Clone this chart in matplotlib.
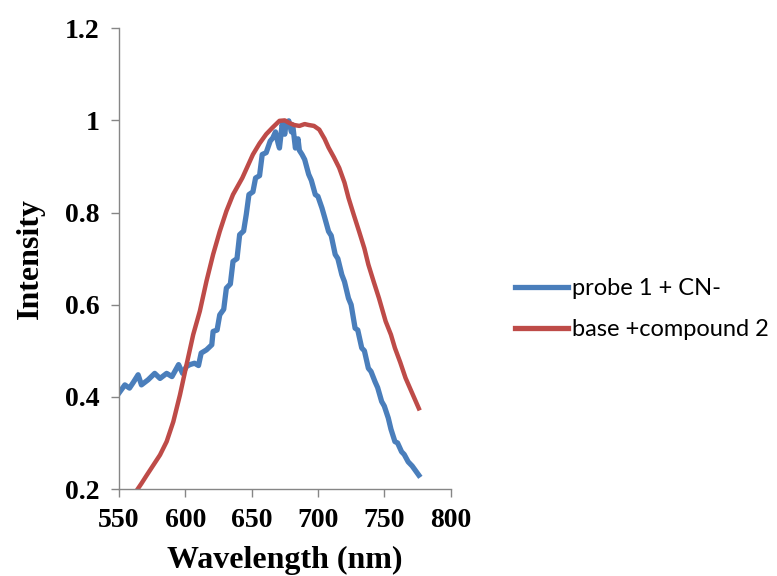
import matplotlib
matplotlib.use("Agg")
import matplotlib.pyplot as plt

# probe 1 + CN-  (blue)
blue_x = [550, 554.5, 558, 561, 564.5, 567, 572, 577, 581, 586, 590, 595, 598, 601, 603.5,
          607, 610, 612, 616, 620, 621, 624, 626, 629, 631, 634, 636, 639, 641, 644, 646,
          648, 651, 653, 656, 658, 661, 664, 666, 668, 670, 671, 673, 675, 676, 678, 680,
          681, 683, 685, 686, 688, 690, 693, 695, 698, 700, 703, 705, 708, 710, 713, 715,
          718, 720, 723, 725, 728, 730, 733, 735, 738, 740, 743, 745, 748, 750, 753, 755,
          758, 760, 763, 765, 768, 771, 774, 776]
blue_y = [0.408, 0.426, 0.419, 0.432, 0.448, 0.426, 0.437, 0.451, 0.440, 0.451, 0.444, 0.470,
          0.451, 0.466, 0.470, 0.473, 0.468, 0.495, 0.502, 0.513, 0.542, 0.545, 0.578, 0.590,
          0.636, 0.645, 0.694, 0.700, 0.752, 0.760, 0.796, 0.839, 0.845, 0.875, 0.880, 0.926,
          0.930, 0.955, 0.962, 0.975, 0.950, 0.940, 0.991, 0.970, 0.995, 0.999, 0.975, 0.990,
          0.940, 0.960, 0.935, 0.926, 0.915, 0.883, 0.870, 0.839, 0.835, 0.810, 0.790, 0.759,
          0.750, 0.709, 0.700, 0.665, 0.650, 0.614, 0.600, 0.549, 0.545, 0.506, 0.500, 0.462,
          0.455, 0.433, 0.420, 0.390, 0.380, 0.354, 0.330, 0.303, 0.300, 0.281, 0.275, 0.259,
          0.250, 0.238, 0.230]

# base +compound 2  (red)
red_x = [563, 567, 571, 576, 581, 586, 591, 596, 601, 606, 611, 616, 621, 626, 631, 636,
         643, 651, 656, 661, 666, 671, 675, 678, 682, 686, 690, 693, 697, 701, 705, 708,
         712, 716, 720, 723, 727, 731, 735, 738, 742, 746, 751, 755, 758, 762, 766, 771, 776]
red_y = [0.195, 0.212, 0.230, 0.252, 0.274, 0.303, 0.346, 0.404, 0.470, 0.535, 0.586, 0.651,
         0.709, 0.759, 0.803, 0.839, 0.875, 0.926, 0.950, 0.970, 0.985, 0.999, 1.000, 0.995,
         0.990, 0.988, 0.992, 0.990, 0.988, 0.980, 0.960, 0.941, 0.920, 0.897, 0.865, 0.832,
         0.795, 0.759, 0.722, 0.687, 0.650, 0.614, 0.564, 0.535, 0.506, 0.475, 0.441, 0.408,
         0.375]

labels = ["probe 1 + CN-", "base +compound 2"]
x_ticks = [550, 600, 650, 700, 750, 800]
y_ticks = [0.2, 0.4, 0.6, 0.8, 1.0, 1.2]
y_tick_labels = ["0.2", "0.4", "0.6", "0.8", "1", "1.2"]

fig = plt.figure(figsize=(7.77, 5.76), dpi=100)
ax = fig.add_axes([0.153, 0.151, 0.427, 0.800])

ax.plot(blue_x, blue_y, color="#4a7ebb", lw=3.8, label=labels[0], solid_joinstyle="round")
ax.plot(red_x, red_y, color="#be4b48", lw=3.2, label=labels[1], solid_joinstyle="round")

ax.set_xlim(550, 800)
ax.set_ylim(0.2, 1.2)
ax.set_xticks(x_ticks)
ax.set_yticks(y_ticks)
ax.set_yticklabels(y_tick_labels)

serif = dict(family="Liberation Serif", weight="bold")
for lab in ax.get_xticklabels() + ax.get_yticklabels():
    lab.set_fontfamily("Liberation Serif")
    lab.set_fontweight("bold")
    lab.set_fontsize(20)

ax.set_xlabel("Wavelength (nm)", fontsize=23, labelpad=9, **serif)
ax.set_ylabel("Intensity", fontsize=23, labelpad=14, **serif)

for s in ["top", "right"]:
    ax.spines[s].set_visible(False)
for s in ["left", "bottom"]:
    ax.spines[s].set_color("#868686")
    ax.spines[s].set_linewidth(1.0)
ax.tick_params(axis="both", direction="out", length=6, width=1.0, color="#868686",
               labelcolor="black", pad=8)

leg = fig.legend(loc="center left", bbox_to_anchor=(0.635, 0.463), frameon=False,
                 prop={"family": "Lato", "size": 17}, handlelength=2.25,
                 handletextpad=0.2, labelspacing=0.85)
for h in leg.get_lines():
    h.set_linewidth(3.8)

fig.savefig("out.png", dpi=100)
